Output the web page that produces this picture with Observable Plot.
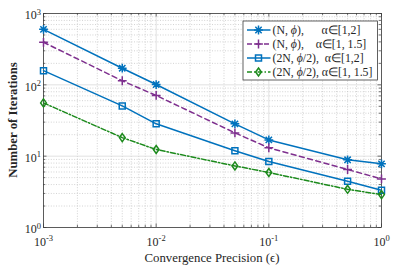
<!DOCTYPE html>
<html><head><meta charset="utf-8">
<script src="https://cdn.jsdelivr.net/npm/d3@7"></script>
<script src="https://cdn.jsdelivr.net/npm/@observablehq/plot@0.6"></script>
<style>
body{margin:0;background:#fff}
svg{font-family:"Liberation Serif","Times New Roman",serif}
</style>
</head><body><div id="chart"></div>
<script>
// ---- data ----
const precision = [0.001, 0.005, 0.01, 0.05, 0.1, 0.5, 1];
const itersN_a12   = [600, 171, 101, 28.4, 16.9, 8.9, 7.8];
const itersN_a115  = [395, 114, 71, 21.2, 13.1, 6.5, 4.8];
const iters2N_a12  = [158, 50.7, 28.4, 11.9, 8.4, 4.45, 3.33];
const iters2N_a115 = [55.8, 18.2, 12.4, 7.3, 5.9, 3.43, 2.89];
const seriesLabels = [
  "(N, ϕ),      α∈[1,2]",
  "(N, ϕ),    α∈[1, 1.5]",
  "(2N, ϕ/2),  α∈[1,2]",
  "(2N, ϕ/2), α∈[1, 1.5]"
];
const xTicks = [0.001, 0.01, 0.1, 1];
const yTicks = [1, 10, 100, 1000];
const xLabel = "Convergence Precision (ϵ)";
const yLabel = "Number of Iterations";

// ---- styles ----
const W = 399, H = 266, mL = 43, mR = 18, mT = 13, mB = 39;
const innerW = W - mL - mR, innerH = H - mT - mB;
const blue = "#0072BD", purple = "#7E2F8E", green = "#1c8a1c";

const symStar = {draw(c, s){ const r = Math.sqrt(s/Math.PI), d = r*0.72;
  c.moveTo(-r,0); c.lineTo(r,0); c.moveTo(0,-r); c.lineTo(0,r);
  c.moveTo(-d,-d); c.lineTo(d,d); c.moveTo(-d,d); c.lineTo(d,-d);}};
const symPlus = {draw(c, s){ const r = Math.sqrt(s/Math.PI);
  c.moveTo(-r,0); c.lineTo(r,0); c.moveTo(0,-r); c.lineTo(0,r);}};
const symSquare = {draw(c, s){ const r = Math.sqrt(s/Math.PI);
  c.moveTo(-r,-r); c.lineTo(r,-r); c.lineTo(r,r); c.lineTo(-r,r); c.closePath();}};
const symDiamond = {draw(c, s){ const r = Math.sqrt(s/Math.PI), w = r*0.72;
  c.moveTo(0,-r); c.lineTo(w,0); c.lineTo(0,r); c.lineTo(-w,0); c.closePath();}};

const styles = [
  {color: blue,   dash: null,            symbol: symStar,    r: 4.4},
  {color: purple, dash: "5,3.5",         symbol: symPlus,    r: 4.4},
  {color: blue,   dash: null,            symbol: symSquare,  r: 3},
  {color: green,  dash: "5,2,1.5,2",     symbol: symDiamond, r: 4}
];
const seriesValues = [itersN_a12, itersN_a115, iters2N_a12, iters2N_a115];
const series = seriesValues.map((values, i) => ({label: seriesLabels[i], values, ...styles[i]}));

function minors(lo, hi){ const out = []; for (let e = lo; e < hi; e++) for (let k = 2; k <= 9; k++) out.push(k * 10 ** e); return out; }
const minorX = minors(-3, 0), minorY = minors(0, 3);
const axisColor = "#3a3a3a";

const marks = [
  Plot.gridX(minorX, {stroke: "#c8c8c8", strokeOpacity: 1, strokeDasharray: "1,1.6", strokeWidth: 0.8}),
  Plot.gridY(minorY, {stroke: "#c8c8c8", strokeOpacity: 1, strokeDasharray: "1,1.6", strokeWidth: 0.8}),
  Plot.gridX(xTicks, {stroke: "#dadada", strokeOpacity: 1, strokeWidth: 0.8}),
  Plot.gridY(yTicks, {stroke: "#dadada", strokeOpacity: 1, strokeWidth: 0.8}),
  Plot.tickX(minorX, {x: d => d, insetTop: innerH - 2.2, stroke: axisColor, strokeWidth: 0.7}),
  Plot.tickX(minorX, {x: d => d, insetBottom: innerH - 2.2, stroke: axisColor, strokeWidth: 0.7}),
  Plot.tickX(xTicks, {x: d => d, insetTop: innerH - 3.5, stroke: axisColor, strokeWidth: 0.7}),
  Plot.tickX(xTicks, {x: d => d, insetBottom: innerH - 3.5, stroke: axisColor, strokeWidth: 0.7}),
  Plot.tickY(minorY, {y: d => d, insetLeft: innerW - 2.2, stroke: axisColor, strokeWidth: 0.7}),
  Plot.tickY(minorY, {y: d => d, insetRight: innerW - 2.2, stroke: axisColor, strokeWidth: 0.7}),
  Plot.tickY(yTicks, {y: d => d, insetLeft: innerW - 3.5, stroke: axisColor, strokeWidth: 0.7}),
  Plot.tickY(yTicks, {y: d => d, insetRight: innerW - 3.5, stroke: axisColor, strokeWidth: 0.7}),
  Plot.frame({stroke: axisColor, strokeWidth: 0.8}),
  Plot.axisX(xTicks, {tickSize: 0, tickPadding: 9.5, label: null, fill: "#262626",
    tickFormat: d => String(Math.round(Math.log10(d)))}),
  Plot.axisY(yTicks, {tickSize: 0, tickPadding: 2.5, label: null, fill: "#262626", dy: 2,
    tickFormat: d => String(Math.round(Math.log10(d)))}),
  ...series.flatMap(s => [
    Plot.line(precision, {x: d => d, y: (d, j) => s.values[j], stroke: s.color, strokeWidth: 1.5,
      strokeDasharray: s.dash ?? undefined}),
    Plot.dot(precision, {x: d => d, y: (d, j) => s.values[j], symbol: s.symbol, r: s.r,
      fill: "none", stroke: s.color, strokeWidth: 1.5})
  ])
];

const plot = Plot.plot({
  width: W, height: H,
  marginLeft: mL, marginRight: mR, marginTop: mT, marginBottom: mB,
  style: {fontSize: "12px", fontFamily: "'Liberation Serif','Times New Roman',serif", background: "#fff", overflow: "visible"},
  x: {type: "log", domain: [0.001, 1]},
  y: {type: "log", domain: [1, 1000]},
  marks
});
document.getElementById("chart").appendChild(plot);

const svg = d3.select(plot);
svg.selectAll('g[aria-label="x-axis tick label"] text, g[aria-label="y-axis tick label"] text').each(function(){
  const t = d3.select(this), e = t.text();
  t.text("10");
  t.append("tspan").attr("dy", "-4.8").attr("font-size", "8.5px").text(e);
});

svg.append("text").attr("x", mL + innerW / 2).attr("y", 262).attr("text-anchor", "middle")
  .attr("font-size", "12.8px").attr("fill", "#262626").text(xLabel);
svg.append("text").attr("transform", `translate(16.5,${mT + innerH / 2}) rotate(-90)`).attr("text-anchor", "middle")
  .attr("font-size", "12.8px").attr("font-weight", "bold").attr("fill", "#262626").text(yLabel);

// legend
const lg = svg.append("g").attr("text-anchor", "start");
lg.append("rect").attr("x", 243).attr("y", 21).attr("width", 134.5).attr("height", 59)
  .style("fill", "#ffffff").style("stroke", axisColor).style("stroke-width", "0.8px");
series.forEach((s, i) => {
  const cy = 30 + i * 14;
  lg.append("line").attr("x1", 247).attr("x2", 270.5).attr("y1", cy).attr("y2", cy)
    .attr("stroke", s.color).attr("stroke-width", 1.5).attr("stroke-dasharray", s.dash);
  lg.append("path").attr("d", d3.symbol(s.symbol, Math.PI * s.r * s.r)()).attr("transform", `translate(258.5,${cy})`)
    .attr("fill", "none").attr("stroke", s.color).attr("stroke-width", 1.5);
  const txt = lg.append("text").attr("x", 272.5).attr("y", cy + 3.8).attr("font-size", "11.8px")
    .attr("text-anchor", "start").attr("fill", "#262626").style("white-space", "pre");
  const parts = s.label.split("ϕ");
  parts.forEach((p, k) => {
    txt.append("tspan").text(p);
    if (k < parts.length - 1) txt.append("tspan").attr("font-style", "italic").text("ϕ");
  });
});
</script>
</body></html>
